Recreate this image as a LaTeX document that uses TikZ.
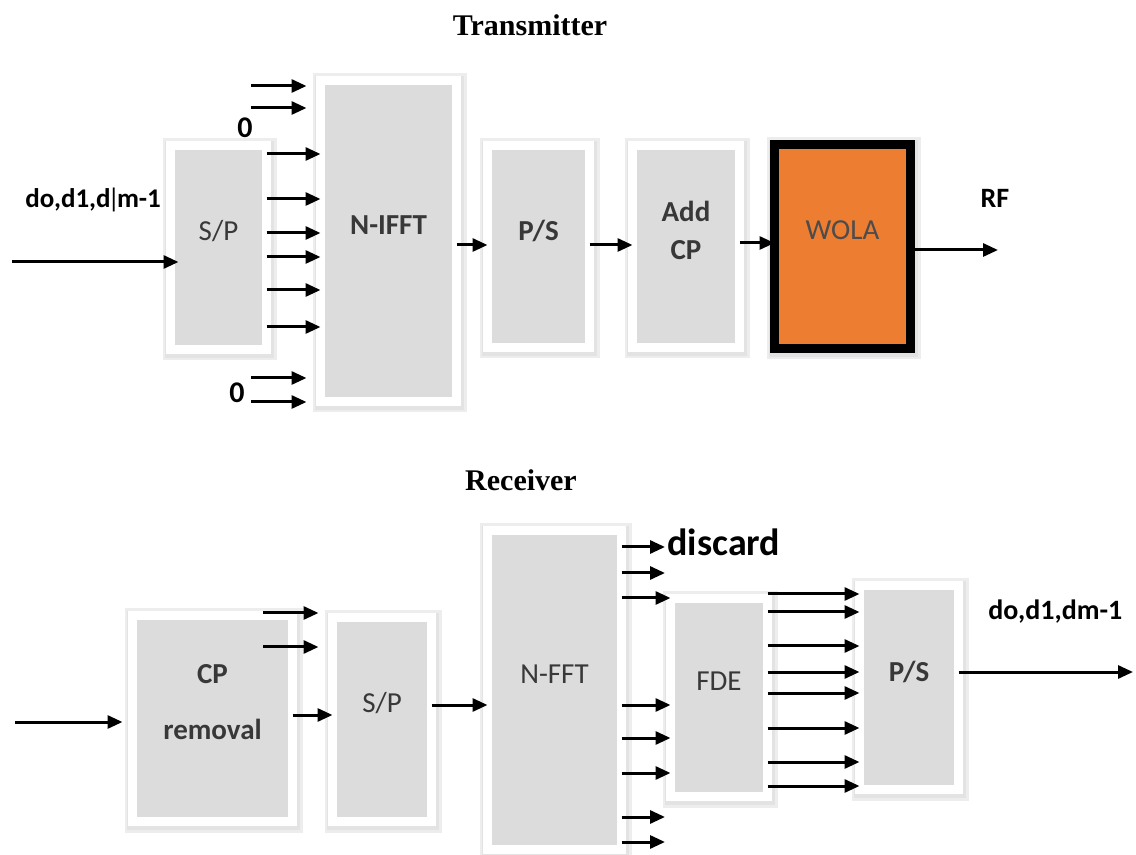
\documentclass[tikz,border=0pt]{standalone}
\usepackage{fontspec}
\setmainfont{Carlito}
\newfontfamily\titlefont{Liberation Serif}
\usetikzlibrary{arrows.meta,positioning}
\definecolor{boxgray}{RGB}{220,220,220}
\definecolor{wolaorange}{RGB}{237,125,49}
\tikzset{
  halo/.style={preaction={draw=black!7,line width=9pt,transform canvas={xshift=0.8pt,yshift=-1pt}},
    preaction={draw=black!11,line width=6.5pt,transform canvas={xshift=0.6pt,yshift=-0.8pt}}},
  blk/.style={halo,draw=white,line width=4.5pt,fill=boxgray,outer sep=0pt},
  wolabox/.style={halo,draw=black,line width=4.5pt,fill=wolaorange,outer sep=0pt},
  lbl/.style={yshift=8pt,font=\fontsize{14.5}{20}\selectfont,text=black!78,align=center},
  arr/.style={line width=1.5pt,-{Triangle[length=7.5pt,width=6.5pt]}},
  ttl/.style={font=\titlefont\bfseries\fontsize{15}{18}\selectfont},
  sig/.style={font=\bfseries\fontsize{14}{16}\selectfont,inner sep=0pt}
}
\begin{document}
\begin{tikzpicture}[x=0.5pt,y=-0.5pt]
\useasboundingbox (0,0) rectangle (1136,855);
\node[ttl] (tx) at (530,25) {Transmitter};
\node[blk,minimum width=48pt,minimum height=102pt,label={[lbl]center:S/P}] (spT) at (218.5,247.5) {};
\node[blk,minimum width=68pt,minimum height=160.5pt,label={[lbl]center:\textbf{N-IFFT}}] (ifft) at (388.5,241) {};
\node[blk,minimum width=51pt,minimum height=101pt,label={[lbl]center:\textbf{P/S}}] (psT) at (538.5,246.5) {};
\node[blk,minimum width=53.5pt,minimum height=101pt,label={[lbl]center:{\textbf{Add}\\[-1pt]\textbf{CP}}}] (addcp) at (686,246.5) {};
\node[wolabox,minimum width=68pt,minimum height=102pt,label={[lbl,text=black!70]center:WOLA}] (wola) at (842.5,246.5) {};
\coordinate (inT) at (12,262);
\draw[arr,shorten >=-4pt] (inT) -- (inT -| spT.west);
\node[sig,anchor=west,font=\bfseries\fontsize{13.5}{16}\selectfont] (dinT) at (25,200) {do,d1,d\kern-1.5pt{\mdseries|}\kern-1.5pt m-1};
\foreach \y in {154,199,233,257,290,327}
  \draw[arr] (spT.east |- 0,\y) -- (ifft.west |- 0,\y);
\foreach \y in {86,108,378,402}{
  \coordinate (z\y) at (251,\y);
  \draw[arr,shorten >=7pt] (z\y) -- (z\y -| ifft.west);
}
\node[sig,font=\bfseries\fontsize{15}{16}\selectfont] (zT) at (245,128) {0};
\node[sig,font=\bfseries\fontsize{15}{16}\selectfont] (zB) at (237,393) {0};
\draw[arr] (ifft.east |- 0,245) -- (psT.west |- 0,245);
\draw[arr] (psT.east |- 0,245) -- (addcp.west |- 0,245);
\draw[arr] (addcp.east |- 0,243) -- (wola.west |- 0,243);
\coordinate (rf) at (998,250);
\draw[arr] (wola.east |- rf) -- (rf);
\node[sig] (rfl) at (995,198) {RF};
\node[ttl] (rx) at (521,480) {Receiver};
\node[blk,minimum width=80pt,minimum height=103pt,label={[lbl]center:{\textbf{CP}\\[8pt]\textbf{removal}}}] (cprem) at (212.5,718.5) {};
\node[blk,minimum width=49.5pt,minimum height=102pt,label={[lbl]center:S/P}] (spR) at (382,719.5) {};
\node[blk,minimum width=67pt,minimum height=159.5pt,label={[lbl]center:N-FFT}] (fft) at (554.5,690) {};
\node[blk,minimum width=48.5pt,minimum height=99pt,label={[lbl]center:FDE}] (fde) at (719,697.5) {};
\node[blk,minimum width=49.5pt,minimum height=102pt,label={[lbl]center:\textbf{P/S}}] (psR) at (909,687.5) {};
\coordinate (inR) at (15,722);
\draw[arr,shorten >=5pt] (inR) -- (inR -| cprem.west);
\foreach \y in {613,647}{
  \coordinate (c\y) at (263,\y);
  \draw[arr] (c\y) -- ([xshift=-7pt]c\y -| spR.west);
}
\draw[arr] (cprem.east |- 0,715) -- (spR.west |- 0,715);
\draw[arr] (spR.east |- 0,705) -- (fft.west |- 0,705);
\coordinate (dsc) at (665,547);
\foreach \y in {547,573,817,842}
  \draw[arr] (fft.east |- 0,\y) -- (dsc |- 0,\y);
\foreach \y in {598,705,738,773}
  \draw[arr] (fft.east |- 0,\y) -- (fde.west |- 0,\y);
\node[sig,anchor=west,font=\bfseries\fontsize{19}{22}\selectfont] (disc) at (667,542) {discard};
\foreach \y in {594,612,646,672,693,728,762,786}
  \draw[arr] (fde.east |- 0,\y) -- (psR.west |- 0,\y);
\coordinate (outR) at (1133,672);
\draw[arr] (psR.east |- outR) -- (outR);
\node[sig,anchor=west] (doutR) at (988,612) {do,d1,dm-1};
\end{tikzpicture}
\end{document}
